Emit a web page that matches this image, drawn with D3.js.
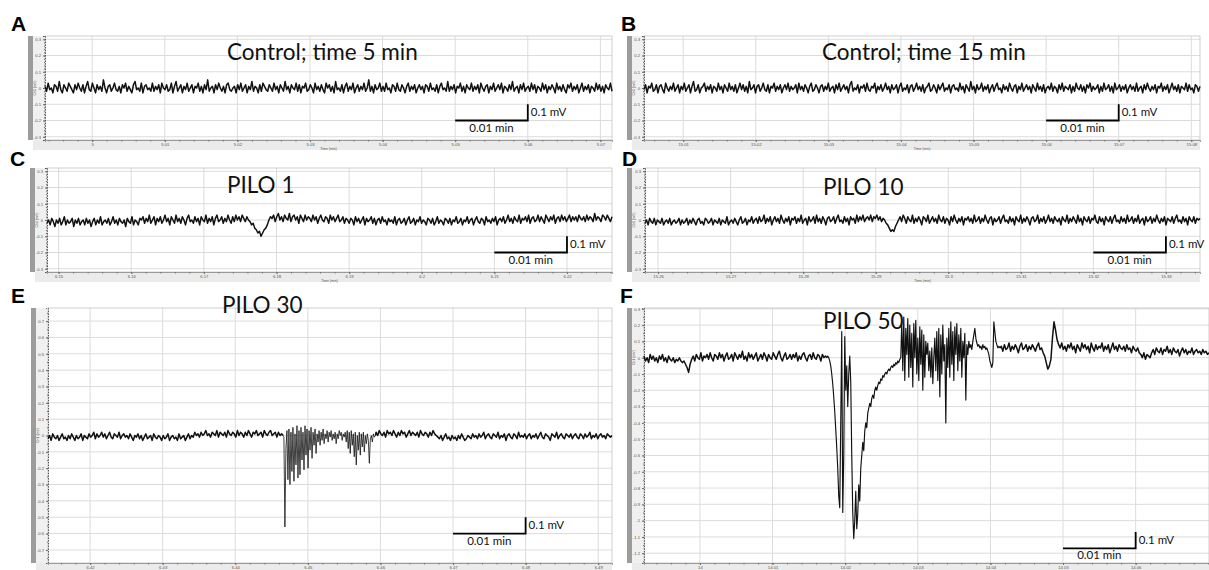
<!DOCTYPE html>
<html><head><meta charset="utf-8">
<script src="https://cdn.jsdelivr.net/npm/d3@7"></script>
<style>body{margin:0;background:#fff}svg{display:block}</style>
</head><body>
<svg id="chart" width="1209" height="570"></svg>
<script>
// ---------------- DATA ----------------
const letters = ["A","B","C","D","E","F"];
const titles = ["Control; time 5 min","Control; time 15 min","PILO 1","PILO 10","PILO 30","PILO 50"];

const xTickLabelsA = ["5","5.01","5.02","5.03","5.04","5.05","5.06","5.07"];
const xTickLabelsB = ["15.01","15.02","15.03","15.04","15.05","15.06","15.07","15.08"];
const xTickLabelsC = ["6.15","6.16","6.17","6.18","6.19","6.2","6.21","6.22"];
const xTickLabelsD = ["15.26","15.27","15.28","15.29","15.3","15.31","15.32","15.33"];
const xTickLabelsE = ["6.42","6.43","6.44","6.45","6.46","6.47","6.48","6.49"];
const xTickLabelsF = ["14","14.01","14.02","14.03","14.04","14.05","14.06"];

const yTickLabelsSmall = ["0.3","0.2","0.1","0","-0.1","-0.2","-0.3"];
const yTickLabelsE = ["0.7","0.6","0.5","0.4","0.3","0.2","0.1","0","-0.1","-0.2","-0.3","-0.4","-0.5","-0.6","-0.7"];
const yTickLabelsF = ["0.3","0.2","0.1","0","-0.1","-0.2","-0.3","-0.4","-0.5","-0.6","-0.7","-0.8","-0.9","-1","-1.1","-1.2"];

// time window shown (min) and voltage window (mV)
const timeRangeA = [4.9935, 5.0716];
const timeRangeB = [15.0046, 15.0812];
const timeRangeC = [6.1484, 6.2262];
const timeRangeD = [15.2582, 15.3347];
const timeRangeE = [6.4142, 6.4919];
const timeRangeF = [13.9923, 14.0701];
const voltRangeSmall = [-0.32, 0.32];
const voltRangeE = [-0.78, 0.78];
const voltRangeF = [-1.26, 0.305];

// scale bars: [t0, t1, v0, v1]  (0.01 min x 0.1 mV)
const scaleBarA = [5.05, 5.06, -0.2, -0.1];
const scaleBarB = [15.06, 15.07, -0.2, -0.1];
const scaleBarC = [6.21, 6.22, -0.2, -0.1];
const scaleBarD = [15.32, 15.33, -0.2, -0.1];
const scaleBarE = [6.47, 6.48, -0.6, -0.5];
const scaleBarF = [14.05, 14.06, -1.17, -1.07];

// Traces: evenly sampled values in units of 0.01 mV over a time span [t0, t1]
const traceA_time = [4.9935, 5.0716];
const traceA = [
1,-2,3,-1,0,-3,2,1,-2,4,-1,-3,2,0,-2,3,1,-1,-3,2,-1,3,0,-2,
2,-3,1,4,-1,-2,3,0,-3,2,-1,1,-2,5,0,-3,1,2,-2,0,3,-1,-2,1,
-3,2,0,3,-2,1,-1,-3,2,4,-1,0,-2,3,-3,1,2,-1,0,-2,3,-2,1,-1,
2,-3,3,0,-1,2,-2,-1,3,-3,1,4,-2,0,2,-3,1,-1,3,-2,0,2,-3,1,
0,3,-2,1,-3,2,-1,5,-2,0,1,-3,2,-1,3,0,-2,1,-3,2,3,-1,-2,0,
1,-3,2,-1,3,-2,0,2,-3,1,-1,4,-2,1,0,-3,2,-2,3,1,-1,-2,2,0,
-2,3,-1,1,-3,2,0,-2,4,-1,1,-3,2,0,-1,3,-2,2,-3,1,0,3,-2,-1,
2,0,-3,3,-1,1,-2,2,-1,-3,3,0,2,-2,1,-3,4,-1,0,-2,2,-3,1,3,
-2,1,-1,3,-3,0,2,-2,1,-1,3,-2,0,5,-2,1,-3,2,-1,0,3,-2,1,-2,
3,-1,0,-3,2,1,-2,3,-1,-2,2,0,-3,1,3,-2,1,-1,2,-3,0,2,-1,1,
-3,2,1,-2,3,-1,0,-2,2,-3,1,3,-1,0,-2,4,-2,1,-1,2,-3,1,0,3,
-2,1,-3,2,0,-1,3,-2,1,-1,2,-3,3,0,-2,1,2,-3,1,-1,3,-2,0,2,
-1,3,-3,1,0,-2,2,-1,4,-2,0,1,-3,2,-1,3,-2,0,1,-2,3,-1,2,-3,
1,0,-2,3,-1,2,-3,1,-1,2,0,-3,3,-1,1,-2,2,-1,-3,2,0,3,-2,1,
-1,2,-3,0,3,-2,1,-1,2,-3,1,0,-2,3,-1,2,-2,1,-3,2,0,-1,3,-2];

const traceB_time = [15.0046, 15.0812];
const traceB = [
-1,2,-3,1,0,3,-2,-1,2,-3,1,2,-1,-3,3,0,-2,1,-1,3,-2,0,2,-3,
1,-1,3,-2,0,2,-3,1,4,-2,-1,2,-3,0,1,3,-2,1,-1,2,-3,1,0,-2,
3,-1,1,-3,2,0,-2,3,-1,1,-2,2,-3,0,3,-1,2,-2,1,-3,4,-1,0,2,
-3,1,2,-2,0,3,-1,-2,2,-3,1,0,3,-2,1,-1,2,-3,0,2,-1,3,-2,1,
-1,0,2,-3,3,-1,1,-2,2,0,-3,1,3,-2,-1,2,0,-3,1,2,-2,1,-1,3,
-2,0,1,-3,2,-1,3,-2,0,2,-1,1,-3,2,4,-2,0,-1,2,-3,1,0,2,-2,
3,-1,-2,1,0,3,-3,1,-1,2,-2,0,3,-1,1,-3,2,-1,0,2,-3,1,3,-2,
0,-1,2,-3,1,2,-2,0,3,-1,1,-2,2,-3,0,1,3,-2,-1,2,0,-3,2,-1,
1,3,-2,0,-1,2,-3,1,2,-1,0,-2,3,-1,1,-3,2,0,-2,4,-1,1,-3,2,
-1,0,3,-2,1,-1,2,-3,0,2,-2,1,3,-1,0,-3,2,-1,1,-2,3,0,-2,1,
2,-3,1,-1,3,-2,0,2,-1,1,-3,2,0,-2,3,-1,1,-2,2,-3,0,1,-1,3,
-2,1,0,-3,2,-1,3,-2,1,0,-1,2,-3,1,-2,3,0,-1,2,-2,1,-3,2,0,
3,-2,1,-1,0,2,-3,1,-2,3,-1,0,2,-2,1,-3,3,-1,0,2,-2,1,-1,2,
-3,0,2,-1,1,-2,3,-2,0,1,-3,2,-1,3,0,-2,1,-1,2,-3,1,0,3,-2,
1,-1,2,-3,0,3,-1,1,-2,2,-3,1,0,-1,3,-2,2,-1,0,-3,2,1,-2,1];

const traceC_time = [6.1484, 6.2262];
const traceC = [
-2,0,-3,1,-1,-4,0,-2,1,-3,-1,2,-3,0,-2,-1,1,-4,0,-2,1,-3,-1,0,
-3,1,-2,0,-4,-1,1,-3,0,-2,2,-3,-1,0,-2,1,-3,-1,2,-2,0,-3,1,-1,
-2,0,-4,1,-1,-2,2,-3,0,-1,-3,1,0,2,-2,1,-1,3,-2,0,2,-3,1,-1,
2,-2,0,3,-1,1,-3,2,0,-2,3,-1,1,-2,2,0,-3,1,3,-1,0,-2,2,-1,
1,-3,2,0,-1,3,-2,1,-1,2,-3,1,3,-1,0,2,-2,1,-1,3,0,-2,2,-1,
3,0,2,-1,3,1,-1,2,0,-1,-3,-2,-5,-6,-8,-7,-10,-8,-6,-5,-3,0,2,1,
3,-1,2,4,0,2,-1,3,1,0,4,-1,2,3,0,2,-2,3,1,-1,3,0,2,1,
-1,3,0,2,-2,1,3,0,-1,2,1,-2,3,0,2,-1,1,3,-1,0,2,-2,1,0,
-2,1,0,-3,2,-1,1,-2,0,2,-3,1,-1,0,2,-2,1,-3,0,1,-2,2,-1,0,
-3,1,-1,0,-2,2,-3,0,1,-2,-1,1,-3,0,2,-2,-1,1,-3,0,-1,2,-2,0,
-1,-3,1,0,-2,1,-3,-1,2,-2,0,-1,-3,1,0,-2,1,-3,0,-1,2,-2,-1,1,
-3,0,-1,2,-2,0,1,-3,0,2,-1,-2,1,0,-3,2,-1,0,-2,1,-1,2,-3,0,
1,-1,2,-2,0,3,-1,1,-2,2,0,-1,3,-2,1,0,2,-1,3,-2,1,2,-1,0,
3,-1,2,0,-2,3,1,-1,2,0,3,-2,1,2,-1,3,0,2,-1,1,3,-1,2,0,
2,-1,3,1,0,2,-1,3,0,2,1,-1,4,0,2,1,-1,3,2,0,3,1,-1,2];

const traceD_time = [15.2582, 15.3347];
const traceD = [
-2,0,-3,1,-1,-2,1,-3,0,-1,-2,1,-3,-1,0,-2,1,-3,-1,0,-2,-1,1,-3,
0,-2,-1,1,-3,0,-2,1,-1,-3,0,1,-2,-1,-3,1,0,-2,-1,1,-3,0,-1,-2,
1,-3,0,-1,-2,2,-3,-1,0,-2,1,-1,-3,0,2,-2,-1,1,-3,0,-1,2,-2,0,
1,-2,2,-1,0,3,-2,1,-1,2,-3,0,2,-1,1,-2,3,0,-2,1,-1,2,-3,1,
0,2,-2,1,-1,3,-2,0,1,-3,2,-1,0,2,-2,3,-1,1,-2,2,0,-3,1,2,
-1,0,2,-2,1,3,-1,0,-2,2,-1,1,-3,2,0,1,-2,3,-1,2,0,3,-1,1,
2,0,3,-1,2,1,3,0,2,-1,1,0,-2,-3,-5,-7,-6,-7,-4,-2,0,2,-1,3,
1,-2,2,0,-1,3,-2,1,-1,2,0,-3,2,1,-1,3,-2,0,2,-1,1,-2,3,0,
-1,2,-2,1,0,-3,2,-1,3,0,-2,1,-1,2,-3,1,0,2,-1,1,-2,3,-1,0,
2,-2,1,-1,3,0,-2,1,2,-3,1,-1,0,2,-2,1,3,-1,0,-2,2,-1,1,-3,
2,0,-1,3,-2,1,-1,2,0,-3,1,2,-1,0,3,-2,1,-1,2,-2,0,3,-1,1,
-2,2,0,-1,1,-3,2,0,-1,3,-2,1,-1,2,0,-2,3,-1,1,-3,2,0,-1,2,
-2,1,0,3,-1,-2,2,-1,1,-3,2,0,-1,2,-2,1,3,-1,0,-2,2,-1,1,-2,
3,-1,0,2,-2,1,-1,3,-2,0,1,-3,2,-1,0,2,-2,1,-1,3,0,-2,1,-1,
2,-3,1,0,-1,2,-2,1,3,-1,0,-2,2,-1,1,-3,2,0,-1,2,-2,1,0,1];

// PILO 30: baseline before the burst, the burst itself (finely sampled), baseline after
const traceE_pre_time = [6.4142, 6.4466];
const traceE_pre = [
-2,0,-3,1,-1,-2,0,-3,-1,1,-2,-1,-3,0,-2,1,-1,-3,0,-2,-1,1,-3,0,-1,
-2,1,-1,0,2,-2,1,-1,0,2,-1,1,-2,0,2,-1,-2,1,0,-1,2,-2,0,1,-1,
0,-2,1,-1,-3,0,-1,1,-2,0,-3,-1,1,-2,-1,0,-3,1,-1,-2,0,-1,-3,0,-2,
-1,1,-3,-1,0,-2,-1,-3,1,-2,-1,0,-3,-1,1,-2,0,-1,2,0,1,-1,2,0,1,
3,0,1,-1,2,1,0,3,-1,2,1,0,2,-1,3,1,0,2,1,-1,3,0,2,1,-1,
2,0,3,1,-1,2,1,3,0,1,2,-1,3,1,0,2,3,0,1,2,-1,2,0,1,0];
const traceE_burst_time = [6.4467, 6.4593];
const traceE_burst = [
-1,-56,-8,3,-27,4,-30,2,-22,5,-28,1,-18,6,-26,3,-24,5,-15,2,
-21,6,-12,4,-20,3,-9,5,-14,2,-6,4,-11,1,-4,3,-6,2,-3,4,
-5,1,-2,3,-4,2,-1,3,-3,1,-2,2,-5,1,-2,3,0,2,-3,1,
-1,2,-4,3,-8,2,-11,3,-6,1,-13,2,-18,0,-9,2,-12,1,-7,2,
-10,0,-5,1,-3,-17,-2,0,-4,1,-1,0];
const traceE_post_time = [6.4594, 6.4919];
const traceE_post = [
2,0,3,1,0,2,-1,3,1,2,0,3,1,-1,2,0,3,1,2,-1,1,3,0,2,1,
0,2,-1,3,1,0,2,1,-1,2,0,3,1,0,-1,-2,0,-3,-1,1,-2,-1,-3,0,-2,
-1,-3,0,-2,1,-1,-3,-2,0,-1,-2,1,-1,0,-2,1,-1,0,2,-2,0,1,-1,-2,1,
0,-1,2,-2,0,-1,1,-3,0,1,-1,-2,1,0,-2,2,-1,0,-1,1,-2,0,1,-2,0,
-1,1,-2,0,2,-1,-2,1,0,-1,-3,1,0,-1,2,-2,0,1,-1,-2,1,0,-1,1,-2,
0,1,-1,-2,1,0,-2,1,-1,0,2,-2,0,-1,1,-2,0,1,-1,0,-2,1,0,-1,0];

// PILO 50: baseline before the event, the event (finely sampled), baseline after
const traceF_pre_time = [13.9923, 14.0175];
const traceF_pre = [
1,-2,0,-3,2,-1,1,-2,0,-3,1,-1,2,-2,0,-3,1,-1,-2,0,-3,-1,-2,0,
-2,-3,-2,-4,-6,-9,-4,-1,1,-2,2,0,-1,3,-2,1,0,2,-1,3,0,-2,2,1,
-1,3,0,2,-2,1,3,-1,0,2,-2,3,1,-1,2,0,4,-1,1,-2,3,0,2,-1,
1,3,-2,0,2,-1,3,1,-2,2,0,-1,3,1,-1,2,4,0,-2,1,3,-1,0,2,
-1,2,0,3,-2,1,-1,2,3,0,-2,1,2,-1,3,0,-1,2,1,-2,2,0,1,0];
const traceF_event_time = [14.0176, 14.0413];
const traceF_event = [
1,0,-2,-5,-10,-16,-24,-33,-44,-55,-68,-85,-92,-40,16,-95,-60,13,-20,-5,
-30,-10,1,-15,-60,-95,-111,-100,-82,-105,-96,-78,-88,-68,-60,-52,-57,-45,-40,-43,
-34,-31,-28,-30,-25,-23,-25,-20,-18,-20,-17,-15,-16,-13,-14,-11,-12,-10,-9,-10,
-8,-7,-8,-6,-5,-6,-4,-5,-3,-4,-2,-3,-1,0,
22,-8,25,-14,18,2,24,-12,20,-6,15,-18,21,0,23,-10,12,-14,19,-4,
17,-20,14,-12,10,2,9,-8,4,-12,6,-16,0,12,-8,16,-14,18,-24,14,
-10,20,-2,8,-40,12,-6,18,-12,22,-4,16,-14,19,2,21,-8,14,-2,18,
-12,10,0,15,-26,8,2,10,6,8,5,10,14,18,12,9,7,8,6,7,
5,8,6,7,5,6,4,2,-2,-4,-6,-3,22,16,10,8,6,7,6];
const traceF_post_time = [14.0415, 14.0701];
const traceF_post = [
7,4,8,5,6,9,4,7,5,8,6,3,7,9,5,6,8,4,7,5,8,6,4,7,9,5,6,
3,1,-3,-7,-5,-1,12,22,17,11,8,6,9,5,7,4,8,6,9,5,7,3,8,6,4,9,6,
8,5,7,3,9,6,4,8,5,7,6,9,4,7,5,8,3,6,9,5,7,4,8,6,5,7,4,
8,5,6,3,7,5,4,6,3,2,0,3,-1,2,1,0,3,5,2,6,4,3,6,2,5,4,7,
3,5,2,6,4,3,5,1,4,6,3,5,2,4,3,6,2,4,5,3,4,2,5,3,4,2,3];

// ---------------- LAYOUT / STYLE ----------------
const layout = [
 {gx:28, left:45, right:612, top:36, bottom:140, strip:10, lx:11, ly:31, tx:227, ty:60, w:[1.5]},
 {gx:627, left:644, right:1200, top:36, bottom:140, strip:10, lx:621, ly:31, tx:822, ty:60, w:[1.5]},
 {gx:30, left:47, right:612, top:168, bottom:272, strip:10, lx:10, ly:166, tx:227, ty:193, w:[1.5]},
 {gx:627, left:645, right:1200, top:168, bottom:272, strip:10, lx:622, ly:166, tx:823, ty:195, w:[1.5]},
 {gx:31, left:48, right:612, top:308, bottom:563, strip:7, lx:11, ly:303, tx:222, ty:313, w:[1.5, 0.8, 1.5]},
 {gx:627, left:644, right:1209, top:308, bottom:563, strip:7, lx:620, ly:303, tx:823, ty:329, w:[1.5, 1.15, 1.5]}
];

const panelData = [
 {xLabels:xTickLabelsA, yLabels:yTickLabelsSmall, tr:timeRangeA, vr:voltRangeSmall, sb:scaleBarA,
  segs:[[traceA_time, traceA]]},
 {xLabels:xTickLabelsB, yLabels:yTickLabelsSmall, tr:timeRangeB, vr:voltRangeSmall, sb:scaleBarB,
  segs:[[traceB_time, traceB]]},
 {xLabels:xTickLabelsC, yLabels:yTickLabelsSmall, tr:timeRangeC, vr:voltRangeSmall, sb:scaleBarC,
  segs:[[traceC_time, traceC]]},
 {xLabels:xTickLabelsD, yLabels:yTickLabelsSmall, tr:timeRangeD, vr:voltRangeSmall, sb:scaleBarD,
  segs:[[traceD_time, traceD]]},
 {xLabels:xTickLabelsE, yLabels:yTickLabelsE, tr:timeRangeE, vr:voltRangeE, sb:scaleBarE,
  segs:[[traceE_pre_time, traceE_pre],[traceE_burst_time, traceE_burst],[traceE_post_time, traceE_post]]},
 {xLabels:xTickLabelsF, yLabels:yTickLabelsF, tr:timeRangeF, vr:voltRangeF, sb:scaleBarF,
  segs:[[traceF_pre_time, traceF_pre],[traceF_event_time, traceF_event],[traceF_post_time, traceF_post]]}
];

const svg = d3.select("#chart");

function samples(seg) {
  const [t, vals] = seg;
  const n = vals.length;
  return vals.map((v, i) => [t[0] + i * (t[1] - t[0]) / (n - 1), v / 100]);
}

panelData.forEach((pd, k) => {
  const L = layout[k];
  const x = d3.scaleLinear().domain(pd.tr).range([L.left, L.right]);
  const y = d3.scaleLinear().domain(pd.vr).range([L.bottom, L.top]);
  const xTicks = pd.xLabels.map(Number);
  const yTicks = pd.yLabels.map(Number);
  const g = svg.append("g");

  g.append("rect").attr("x", L.gx).attr("y", L.top).attr("width", 5)
    .attr("height", L.bottom - L.top).attr("fill", "#9c9c9c");
  g.append("rect").attr("x", L.gx + 5).attr("y", L.top).attr("width", L.left - L.gx - 5)
    .attr("height", L.bottom - L.top).attr("fill", "#f0f0f0");
  g.append("rect").attr("x", L.gx + 5).attr("y", L.bottom).attr("width", L.right - L.gx - 5)
    .attr("height", L.strip).attr("fill", "#ebebeb");

  g.append("g").selectAll("line").data(yTicks).join("line")
    .attr("x1", L.left).attr("x2", L.right).attr("y1", d => y(d)).attr("y2", d => y(d))
    .attr("stroke", "#dcdcdc").attr("stroke-width", 1);
  g.append("g").selectAll("line").data(xTicks).join("line")
    .attr("x1", d => x(d)).attr("x2", d => x(d)).attr("y1", L.top).attr("y2", L.bottom)
    .attr("stroke", "#dcdcdc").attr("stroke-width", 1);
  g.append("rect").attr("x", L.left).attr("y", L.top).attr("width", L.right - L.left)
    .attr("height", L.bottom - L.top).attr("fill", "none").attr("stroke", "#c4c4c4").attr("stroke-width", 0.8);

  const ya = g.append("g").attr("transform", `translate(${L.left},0)`)
    .call(d3.axisLeft(y).tickValues(yTicks).tickSize(2).tickPadding(2)
      .tickFormat((d, i) => pd.yLabels[i]));
  ya.select(".domain").attr("stroke", "#555").attr("stroke-dasharray", "1.5,1.2");
  ya.selectAll(".tick line").attr("stroke", "#666");
  ya.selectAll("text").attr("font-size", 4.2).attr("fill", "#555").attr("font-family", "Liberation Sans");
  g.append("g").attr("transform", `translate(${L.left},0)`)
    .call(d3.axisLeft(y).ticks(40).tickSize(1).tickFormat(""))
    .call(a => { a.select(".domain").remove(); a.selectAll("line").attr("stroke", "#777"); });
  g.append("text").attr("transform", `translate(${L.gx + 8},${y(0)}) rotate(-90)`)
    .attr("text-anchor", "middle").attr("font-size", 3.5).attr("fill", "#555")
    .attr("font-family", "Liberation Sans").text("Ch1 (mV)");

  const xa = g.append("g").attr("transform", `translate(0,${L.bottom})`)
    .call(d3.axisBottom(x).tickValues(xTicks).tickSize(2).tickPadding(1.5)
      .tickFormat((d, i) => pd.xLabels[i]));
  xa.select(".domain").attr("stroke", "#999");
  xa.selectAll(".tick line").attr("stroke", "#666");
  xa.selectAll("text").attr("font-size", 4.2).attr("fill", "#555").attr("font-family", "Liberation Sans");
  g.append("g").attr("transform", `translate(0,${L.bottom})`)
    .call(d3.axisBottom(x).ticks(40).tickSize(1.5).tickFormat(""))
    .call(a => { a.select(".domain").remove(); a.selectAll("line").attr("stroke", "#777"); });
  if (L.strip > 8) {
    g.append("text").attr("x", (L.left + L.right) / 2).attr("y", L.bottom + 9.5)
      .attr("text-anchor", "middle").attr("font-size", 3.5).attr("fill", "#555")
      .attr("font-family", "Liberation Sans").text("Time (min)");
  }

  const line = d3.line().x(d => x(d[0])).y(d => y(d[1]));
  let prev = null;
  pd.segs.forEach((seg, si) => {
    let pts = samples(seg);
    if (prev) pts = [prev].concat(pts);
    prev = pts[pts.length - 1];
    g.append("path").datum(pts).attr("d", line)
      .attr("fill", "none").attr("stroke", "#111").attr("stroke-width", L.w[si])
      .attr("stroke-linejoin", "round");
  });

  const [t0, t1, v0, v1] = pd.sb;
  g.append("path")
    .attr("d", `M${x(t0)},${y(v0)}H${x(t1)}V${y(v1)}`)
    .attr("fill", "none").attr("stroke", "#000").attr("stroke-width", 1.8);
  g.append("text").attr("x", x(t1) + 3).attr("y", (y(v0) + y(v1)) / 2 + 4)
    .attr("font-family", "Lato").attr("font-size", 11.5).attr("fill", "#111").text("0.1 mV");
  g.append("text").attr("x", (x(t0) + x(t1)) / 2).attr("y", y(v0) + 11)
    .attr("text-anchor", "middle")
    .attr("font-family", "Lato").attr("font-size", 11.5).attr("fill", "#111").text("0.01 min");

  g.append("text").attr("x", L.tx).attr("y", L.ty)
    .attr("font-family", "Lato").attr("font-size", 22.5).attr("fill", "#111").text(titles[k]);
  svg.append("text").attr("x", L.lx).attr("y", L.ly)
    .attr("font-family", "Liberation Sans").attr("font-weight", "bold")
    .attr("font-size", 21).attr("fill", "#000").text(letters[k]);
});
</script>
</body></html>
